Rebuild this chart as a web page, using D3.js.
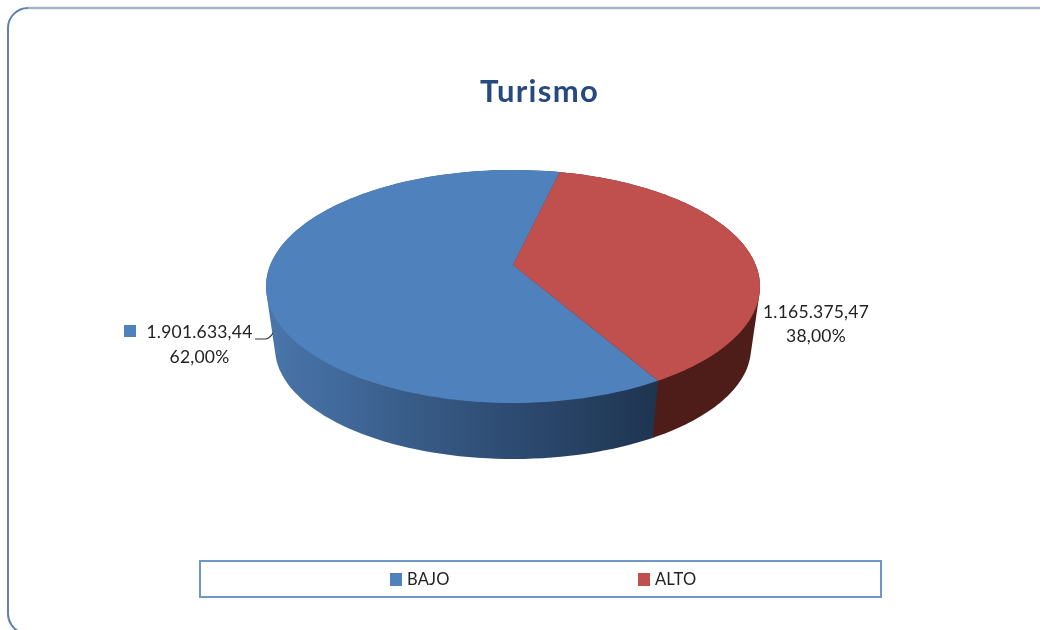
<!DOCTYPE html>
<html>
<head>
<meta charset="utf-8">
<script src="https://d3js.org/d3.v7.min.js"></script>
<style>
    html, body { margin: 0; padding: 0; background: #fff; overflow: hidden; }
    svg { display: block; filter: blur(0.6px); }
    text { font-family: Lato, "Open Sans", sans-serif; }
</style>
</head>
<body>
<div class="js-canvas"></div>
<script>
'use strict';

const categories = ['BAJO', 'ALTO'];
const values = [1901633.44, 1165375.47];
const valueLabels = ['1.901.633,44', '1.165.375,47'];
const percentLabels = ['62,00%', '38,00%'];
const colors = ['#4f81bd', '#c0504d'];
const titleText = 'Turismo';

const config = {
    width: 1044,
    height: 630,
    top: { cx: 513, cy: 286.5, rx: 247, ry: 116.5 },
    bottom: { cx: 513, cy: 348, rx: 238, ry: 111 },
    // perspective shift of the pie centre, as a share of ry
    tilt: -0.185,
    startDeg: 149.9
};

const svg = d3.select('.js-canvas')
    .append('svg')
    .attr('width', config.width)
    .attr('height', config.height);

// frame: only top and left show, the rest runs off the picture
svg.append('path')
    .attr('d', 'M28,8 H1040')
    .attr('fill', 'none')
    .attr('stroke', '#a4b3c8')
    .attr('stroke-width', 2.5);
svg.append('path')
    .attr('d', 'M28,8 A20,20 0 0 0 8,28 V614 A20,20 0 0 0 20,632')
    .attr('fill', 'none')
    .attr('stroke', '#5f83ad')
    .attr('stroke-width', 2);

svg.append('text')
    .attr('x', 539.5)
    .attr('y', 102)
    .attr('text-anchor', 'middle')
    .attr('font-size', 31)
    .attr('font-weight', 700)
    .attr('letter-spacing', 1.3)
    .attr('fill', '#264a7e')
    .text(titleText);

// d3.pie gives the angles, then they are projected on the tilted disc
const pie = d3.pie()
    .sort(null)
    .startAngle(config.startDeg * Math.PI / 180)
    .endAngle((config.startDeg + 360) * Math.PI / 180);
const slices = pie(values);

function project(a, e) {
    const X = Math.sin(a);
    const Y = -Math.cos(a);
    const t = config.tilt;
    const d = 1 + t * Y;
    return [
        e.cx + e.rx * X * Math.sqrt(1 - t * t) / d,
        e.cy + e.ry * (Y + t) / d
    ];
}

function arcPoints(s, e) {
    return d3.range(0, 121).map(i => {
        const a = s.startAngle + (s.endAngle - s.startAngle) * i / 120;
        return project(a, e);
    });
}

const line = d3.line();
const defs = svg.append('defs');

// shading on the blue wall, left to right
const blueStops = [
    [0, '#4a76ab'], [0.19, '#41699b'], [0.4, '#375a85'],
    [0.65, '#2d4a70'], [0.85, '#243e5e'], [1, '#1e3550']
];
const blueGrad = defs.append('linearGradient')
    .attr('id', 'wall-0')
    .attr('gradientUnits', 'userSpaceOnUse')
    .attr('x1', 266).attr('x2', 656).attr('y1', 0).attr('y2', 0);
blueGrad.selectAll('stop').data(blueStops).join('stop')
    .attr('offset', d => d[0])
    .attr('stop-color', d => d[1]);

const wallFill = ['url(#wall-0)', '#4e1d19'];

// outer walls as hulls so the outline runs straight from top disc to bottom disc
// red first, the blue hull then cuts the seam clean
svg.selectAll('path.wall')
    .data(slices.slice().reverse())
    .join('path')
    .attr('class', 'wall')
    .attr('fill', d => wallFill[d.index])
    .attr('d', d => {
        const pts = arcPoints(d, config.top).concat(arcPoints(d, config.bottom));
        return line(d3.polygonHull(pts)) + 'Z';
    });

svg.selectAll('path.slice')
    .data(slices)
    .join('path')
    .attr('class', 'slice')
    .attr('fill', (d, i) => colors[i])
    .attr('d', d => {
        const centre = [config.top.cx, config.top.cy + config.top.ry * config.tilt];
        return line([centre].concat(arcPoints(d, config.top))) + 'Z';
    });

// data labels
const labelPos = [
    { x: 199.5, y1: 338, y2: 363 },
    { x: 816, y1: 318, y2: 342 }
];
const labels = svg.selectAll('g.label')
    .data(categories)
    .join('g')
    .attr('class', 'label')
    .attr('font-size', 17.5)
    .attr('letter-spacing', 0.2)
    .attr('fill', '#222')
    .attr('text-anchor', 'middle');
labels.append('text')
    .attr('x', (d, i) => labelPos[i].x)
    .attr('y', (d, i) => labelPos[i].y1)
    .text((d, i) => valueLabels[i]);
labels.append('text')
    .attr('x', (d, i) => labelPos[i].x)
    .attr('y', (d, i) => labelPos[i].y2)
    .text((d, i) => percentLabels[i]);

// legend key beside the first label
svg.append('rect')
    .attr('x', 124)
    .attr('y', 325)
    .attr('width', 12)
    .attr('height', 12)
    .attr('fill', colors[0]);

// leader line
svg.append('path')
    .attr('d', 'M255,339 L266,339 Q270,338 273,333')
    .attr('fill', 'none')
    .attr('stroke', '#333')
    .attr('stroke-width', 1.2);

// legend
svg.append('rect')
    .attr('x', 200)
    .attr('y', 561)
    .attr('width', 681)
    .attr('height', 36)
    .attr('fill', '#fff')
    .attr('stroke', '#6e96c6')
    .attr('stroke-width', 2);

const legendX = d3.scalePoint().domain(categories).range([390, 638]);
const legend = svg.selectAll('g.legend')
    .data(categories)
    .join('g')
    .attr('class', 'legend')
    .attr('transform', d => `translate(${legendX(d)}, 573)`);
legend.append('rect')
    .attr('width', 12)
    .attr('height', 13)
    .attr('fill', (d, i) => colors[i]);
legend.append('text')
    .attr('x', 17)
    .attr('y', 12)
    .attr('font-size', 16.5)
    .attr('letter-spacing', 0.2)
    .attr('fill', '#222')
    .text(d => d);
</script>
</body>
</html>
